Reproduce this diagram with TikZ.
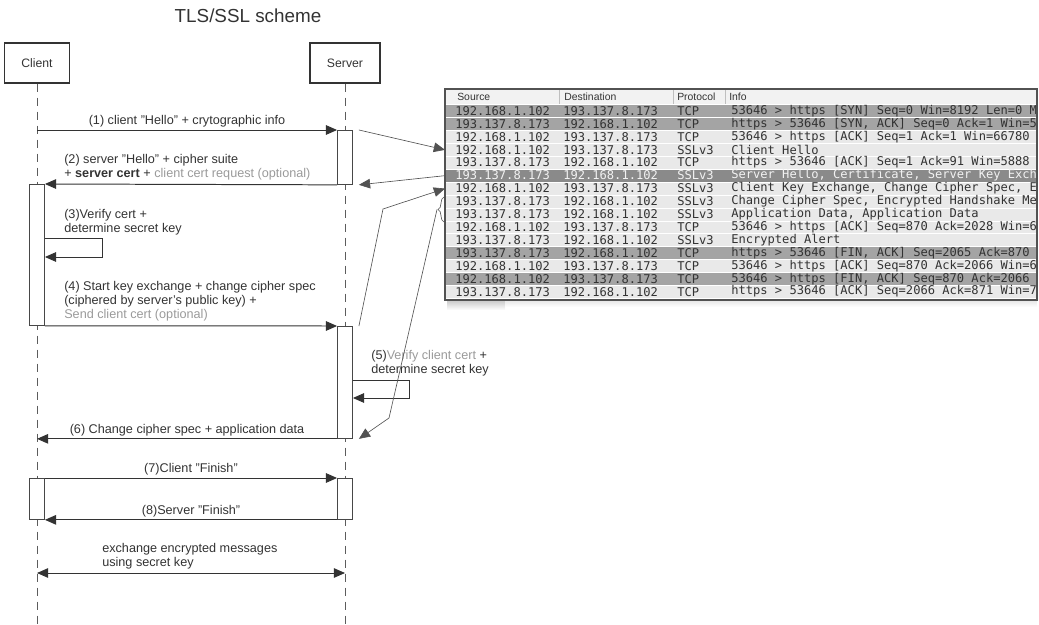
\documentclass[tikz,border=0pt]{standalone}
\usepackage{fontspec}
\setmainfont{Liberation Sans}
\newfontfamily\pktfont{DejaVu Sans Mono}
\usepackage{tikz}
\usetikzlibrary{arrows.meta,calc,positioning,decorations.pathreplacing}

\definecolor{ink}{HTML}{333333}
\definecolor{soft}{HTML}{9A9A9A}
\definecolor{rowdark}{HTML}{A4A4A4}
\definecolor{rowlight}{HTML}{E9E9E9}
\definecolor{rowsel}{HTML}{8A8A8A}
\definecolor{rowtext}{HTML}{F2F2F2}

\begin{document}
\begin{tikzpicture}[x=0.25mm,y=-0.25mm,
    every node/.style={font=\fontsize{9}{10}\selectfont, text=ink},
    actor/.style={draw=ink, line width=1pt, minimum height=10mm, font=\fontsize{8.7}{10}\selectfont},
    act/.style={draw=ink!90, line width=0.6pt, fill=white, minimum width=3.75mm, anchor=north, inner sep=0pt},
    life/.style={draw=ink!80, dash pattern=on 2mm off 1.5mm, line width=0.5pt},
    msg/.style={draw=ink, line width=0.7pt, -{Triangle[length=2.8mm,width=2.4mm]}},
    both/.style={draw=ink, line width=0.7pt, {Triangle[length=2.8mm,width=2.4mm]}-{Triangle[length=2.8mm,width=2.4mm]}},
    note/.style={draw=ink!85, line width=0.45pt, -{Triangle[length=2.8mm,width=2.4mm]}},
    lbl/.style={align=left, anchor=north west, inner sep=0pt},
    on/.style={midway, above, inner sep=1.5pt},
    pkt/.style={anchor=north west, minimum width=148mm, minimum height=3.225mm, inner sep=0pt, draw=white, line width=0.3pt},
    cell/.style={anchor=west, inner sep=0pt, font=\pktfont\fontsize{8.6}{9}\selectfont},
    hcell/.style={anchor=west, inner sep=0pt, font=\fontsize{7.4}{8}\selectfont}]
\useasboundingbox (0,0) rectangle (1039,625);

\node[font=\fontsize{13.4}{15}\selectfont] (title) at (248,16) {TLS/SSL scheme};

% actors and lifelines
\node[actor, minimum width=16.25mm] (client) at (37,63) {Client};
\node[actor, minimum width=17.5mm] (server) at (345,63) {Server};
\draw[life] (client.south) -- (client.south |- 0,625);
\draw[life] (server.south) -- (server.south |- 0,625);

% activation bars
\node[act, minimum height=13.5mm] (sa1) at (345,130) {};
\node[act, minimum height=35.25mm] (ca1) at (37,184) {};
\node[act, minimum height=28mm] (sa2) at (345,326) {};
\node[act, minimum height=10.25mm] (ca2) at (37,478) {};
\node[act, minimum height=10.25mm] (sa3) at (345,478) {};

% handshake messages
\draw[msg] (client |- sa1.north) -- (sa1.north west)
    node[on] (l1) {(1) client "Hello" + crytographic info};
\draw[msg] (sa1.south west) -- (ca1.north east);
\node[lbl] (l2) at (64,154) {(2) server "Hello" + cipher suite\\+ \textbf{server cert} + \textcolor{soft}{client cert request (optional)}};
\draw[msg] ($(ca1.north east)+(0,54)$) -- ++(58,0) -- ++(0,19) -- ++(-58,0);
\node[lbl] (l3) at (64,209) {(3)Verify cert +\\determine secret key};
\draw[msg] (ca1.south east) -- (sa2.north west);
\node[lbl] (l4) at (64,281) {(4) Start key exchange + change cipher spec\\(ciphered by server's public key) +\\\textcolor{soft}{Send client cert (optional)}};
\draw[msg] ($(sa2.north east)+(0,54)$) -- ++(57,0) -- ++(0,18) -- ++(-57,0);
\node[lbl] (l5) at (371,350) {(5)\textcolor{soft}{Verify client cert} +\\determine secret key};
\draw[msg] (sa2.south west) -- (client |- sa2.south)
    node[on] (l6) {(6) Change cipher spec + application data};
\draw[msg] (ca2.north east) -- (sa3.north west)
    node[on] (l7) {(7)Client "Finish"};
\draw[msg] (sa3.south west) -- (ca2.south east)
    node[on] (l8) {(8)Server "Finish"};
\coordinate (xa) at (37,573);
\coordinate (xb) at (345,573);
\draw[both] (xa) -- (xb);
\node[lbl] (l9) at (102,543) {exchange encrypted messages\\using secret key};

% captured packets
\shade[top color=black!22, bottom color=white] (447,300) rectangle (505,310);
\shade[top color=black!10, bottom color=white] (505,300) rectangle (1037,307);
\node[pkt, minimum height=3.875mm, fill=black!5, draw=none] (head) at (445,89) {};
\foreach \sx in {559,673,725}
  \draw[black!25, line width=0.4pt] (\sx,90) -- (\sx,104);
\node[hcell] (hsrc) at (457,97) {Source};
\node[hcell] (hdst) at (564,97) {Destination};
\node[hcell] (hpro) at (677,97) {Protocol};
\node[hcell] (hinf) at (729,97) {Info};
\begin{scope}
\clip (445,89) rectangle (1036,300);
\foreach \src/\dst/\pro/\inf/\bg/\fg [count=\i] in {
  192.168.1.102/193.137.8.173/TCP/{53646 > https [SYN] Seq=0 Win=8192 Len=0 M}/rowdark/ink,
  193.137.8.173/192.168.1.102/TCP/{https > 53646 [SYN, ACK] Seq=0 Ack=1 Win=5}/rowdark/ink,
  192.168.1.102/193.137.8.173/TCP/{53646 > https [ACK] Seq=1 Ack=1 Win=66780}/rowlight/ink,
  192.168.1.102/193.137.8.173/SSLv3/{Client Hello}/rowlight/ink,
  193.137.8.173/192.168.1.102/TCP/{https > 53646 [ACK] Seq=1 Ack=91 Win=5888}/rowlight/ink,
  193.137.8.173/192.168.1.102/SSLv3/{Server Hello, Certificate, Server Key Exch}/rowsel/rowtext,
  192.168.1.102/193.137.8.173/SSLv3/{Client Key Exchange, Change Cipher Spec, E}/rowlight/ink,
  193.137.8.173/192.168.1.102/SSLv3/{Change Cipher Spec, Encrypted Handshake Me}/rowlight/ink,
  193.137.8.173/192.168.1.102/SSLv3/{Application Data, Application Data}/rowlight/ink,
  192.168.1.102/193.137.8.173/TCP/{53646 > https [ACK] Seq=870 Ack=2028 Win=6}/rowlight/ink,
  193.137.8.173/192.168.1.102/SSLv3/{Encrypted Alert}/rowlight/ink,
  193.137.8.173/192.168.1.102/TCP/{https > 53646 [FIN, ACK] Seq=2065 Ack=870}/rowdark/ink,
  192.168.1.102/193.137.8.173/TCP/{53646 > https [ACK] Seq=870 Ack=2066 Win=6}/rowlight/ink,
  192.168.1.102/193.137.8.173/TCP/{53646 > https [FIN, ACK] Seq=870 Ack=2066}/rowdark/ink,
  193.137.8.173/192.168.1.102/TCP/{https > 53646 [ACK] Seq=2066 Ack=871 Win=7}/rowlight/ink}
{
  \node[pkt, fill=\bg] (row\i) at (445,{104.5+(\i-1)*12.9}) {};
  \node[cell, text=\fg] (src\i) at (455,{111+(\i-1)*12.9}) {\src};
  \node[cell, text=\fg] (dst\i) at (563,{111+(\i-1)*12.9}) {\dst};
  \node[cell, text=\fg] (pro\i) at (677,{111+(\i-1)*12.9}) {\pro};
  \node[cell, text=\fg] (inf\i) at (731,{111+(\i-1)*12.9}) {\inf};
}
\end{scope}
\draw[ink!85, line width=0.8pt] (445,89) rectangle (1037,300);

% links between the messages and the packets
\draw[ink!85, line width=0.45pt, decorate, decoration={brace, amplitude=1.5mm}] (444,222) -- (444,197);
\coordinate (brtip) at (437,209.5);
\coordinate (bend4) at (383,209);
\coordinate (bend6) at (389,418);
\draw[note] ([xshift=1.5mm]sa1.north east) -- (row4.west);
\draw[note] (row6.west) -- ([xshift=1.5mm]sa1.south east);
\draw[note] ([xshift=1.5mm]sa2.north east) -- (bend4) -- (row7.west);
\draw[note] (brtip) -- (bend6) -- ([xshift=1.5mm]sa2.south east);
\end{tikzpicture}
\end{document}
